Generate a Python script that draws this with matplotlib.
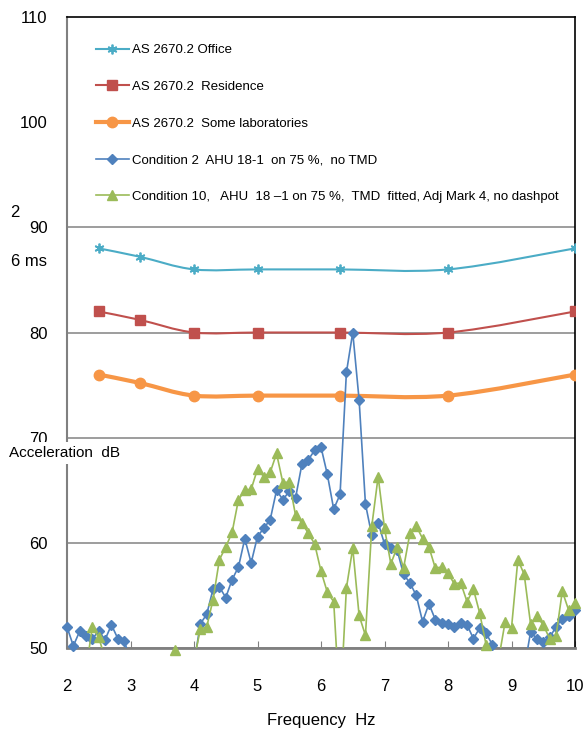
import numpy as np
import matplotlib
matplotlib.use('Agg')
import matplotlib.pyplot as plt
from matplotlib.path import Path
from matplotlib.patches import PathPatch, Rectangle
from matplotlib.lines import Line2D

plt.rcParams['font.family'] = ['Liberation Sans', 'DejaVu Sans']

# AS 2670.2 criteria curves (1/3 octave centres)
std_freq = [2.5, 3.15, 4, 5, 6.3, 8, 10]
office = [88, 87.2, 86, 86, 86, 86, 88]
residence = [82, 81.2, 80, 80, 80, 80, 82]
labs = [76, 75.2, 74, 74, 74, 74, 76]

# measured spectra, 0.1 Hz steps from 2 to 10 Hz (nan = off the chart, not readable)
freq = np.round(np.arange(20, 101) / 10, 1)
nan = np.nan
cond2 = [52.0, 50.2, 51.6, 51.1, 50.9, 51.6, 50.8, 52.2, 50.9, 50.7,
         48.8, nan, nan, nan, nan, nan, nan, nan, nan, nan,
         48.5, 52.3, 53.2, 55.6, 55.8, 54.8, 56.5, 57.7, 60.4, 58.1,
         60.6, 61.4, 62.2, 65.0, 64.1, 64.9, 64.3, 67.5, 67.9, 68.8,
         69.1, 66.5, 63.2, 64.6, 76.2, 80.0, 73.6, 63.7, 60.7, 61.9,
         59.9, 59.5, 59.3, 57.0, 56.2, 55.0, 52.5, 54.2, 52.7, 52.4,
         52.3, 52.0, 52.4, 52.2, 50.9, 51.9, 51.4, 50.3, 47.0, nan,
         nan, nan, 48.0, 51.5, 50.9, 50.6, 51.0, 52.0, 52.8, 53.0,
         53.6]
cond10 = [nan, nan, nan, 48.0, 52.0, 51.0, 49.0, nan, nan, nan,
          nan, nan, nan, nan, nan, nan, nan, 49.8, nan, nan,
          48.8, 51.8, 52.0, 54.6, 58.4, 59.6, 61.0, 64.1, 65.0, 65.1,
          67.0, 66.3, 66.7, 68.5, 65.7, 65.8, 62.6, 61.9, 60.9, 59.9,
          57.3, 55.3, 54.4, 44.0, 55.7, 59.5, 53.1, 51.2, 61.6, 66.3,
          61.4, 58.0, 59.6, 57.6, 60.9, 61.6, 60.4, 59.6, 57.6, 57.7,
          57.1, 56.1, 56.2, 54.4, 55.6, 53.3, 50.3, 48.5, 49.0, 52.5,
          51.9, 58.4, 57.0, 52.3, 53.0, 52.2, 50.9, 51.1, 55.4, 53.6,
          54.3]

labels = ['AS 2670.2 Office',
          'AS 2670.2  Residence',
          'AS 2670.2  Some laboratories',
          'Condition 2  AHU 18-1  on 75 %,  no TMD',
          'Condition 10,   AHU  18 \u20131 on 75 %,  TMD  fitted, Adj Mark 4, no dashpot']


def smooth_path(x, y):
    # excel style smoothed line, catmull-rom pieces as bezier curves
    pts = np.column_stack([x, y]).astype(float)
    verts = [pts[0]]
    codes = [Path.MOVETO]
    n = len(pts)
    for i in range(n - 1):
        p0 = pts[max(i - 1, 0)]
        p1 = pts[i]
        p2 = pts[i + 1]
        p3 = pts[min(i + 2, n - 1)]
        verts += [p1 + (p2 - p0) / 6, p2 - (p3 - p1) / 6, p2]
        codes += [Path.CURVE4] * 3
    return Path(verts, codes)


fig = plt.figure(figsize=(5.86, 7.35), dpi=100)
ax = fig.add_axes([67 / 586, 1 - 648 / 735, 508 / 586, 631 / 735])

std_styles = [
    (office, '#4BACC6', (6, 2, 0), 7, 1.5, 1.3),
    (residence, '#C0504D', 's', 7, 1.5, 1),
    (labs, '#F79646', 'o', 7.5, 3, 1),
]
handles = []
for vals, col, mk, ms, lw, mew in std_styles:
    ax.add_patch(PathPatch(smooth_path(std_freq, vals), fill=False,
                           edgecolor=col, lw=lw, zorder=3))
    ax.plot(std_freq, vals, ls='none', marker=mk, ms=ms, color=col,
            mew=mew, zorder=4)
    handles.append(Line2D([], [], color=col, lw=lw, marker=mk, ms=ms, mew=mew))

meas_styles = [
    (cond2, '#4F81BD', 'D', 5.5),
    (cond10, '#9BBB59', '^', 7.5),
]
for vals, col, mk, ms in meas_styles:
    y = np.array(vals)
    ax.plot(freq, y, color=col, lw=1.2, zorder=5)
    keep = y >= 49.7
    ax.plot(freq[keep], y[keep], ls='none', marker=mk, ms=ms, color=col,
            clip_on=False, zorder=5)
    handles.append(Line2D([], [], color=col, lw=1.2, marker=mk, ms=ms))

ax.set_xlim(2, 10)
ax.set_ylim(50, 110)
ax.set_xticks(range(2, 11))
ax.set_yticks(range(50, 111, 10))
ax.set_axisbelow(True)
ax.yaxis.grid(True, color='#8c8c8c', lw=1.2)

ax.spines['top'].set_color('black')
ax.spines['right'].set_color('black')
ax.spines['top'].set_linewidth(1.2)
ax.spines['right'].set_linewidth(1.2)
ax.spines['left'].set_color('#808080')
ax.spines['bottom'].set_color('#808080')
ax.spines['left'].set_linewidth(1.5)
ax.spines['bottom'].set_linewidth(2)

ax.tick_params(axis='y', length=0, pad=14, labelsize=12)
ax.tick_params(axis='x', direction='in', length=5, color='#808080',
               pad=22, labelsize=12)

# white legend area over the top third
ax.add_patch(Rectangle((0, 0.668), 1, 0.332, transform=ax.transAxes,
                       facecolor='white', edgecolor='none', zorder=1.5))
ax.legend(handles, labels, loc='upper left', bbox_to_anchor=(0.057, 0.957),
          frameon=False, borderpad=0, borderaxespad=0, handlelength=2.5,
          handletextpad=0.2, labelspacing=1.85, fontsize=9.5)

fig.text(321 / 586, 1 - 720 / 735, 'Frequency  Hz', ha='center', va='center',
         fontsize=12)
fig.text(15 / 586, 1 - 213 / 735, '2', ha='center', va='center', fontsize=12)
fig.text(11 / 586, 1 - 262 / 735, '6 ms', ha='left', va='center', fontsize=12)
fig.text(9 / 586, 1 - 453 / 735, 'Acceleration  dB', ha='left', va='center',
         fontsize=11, zorder=10,
         bbox=dict(facecolor='white', edgecolor='none', pad=2.5))

fig.savefig('out.png', dpi=100)
